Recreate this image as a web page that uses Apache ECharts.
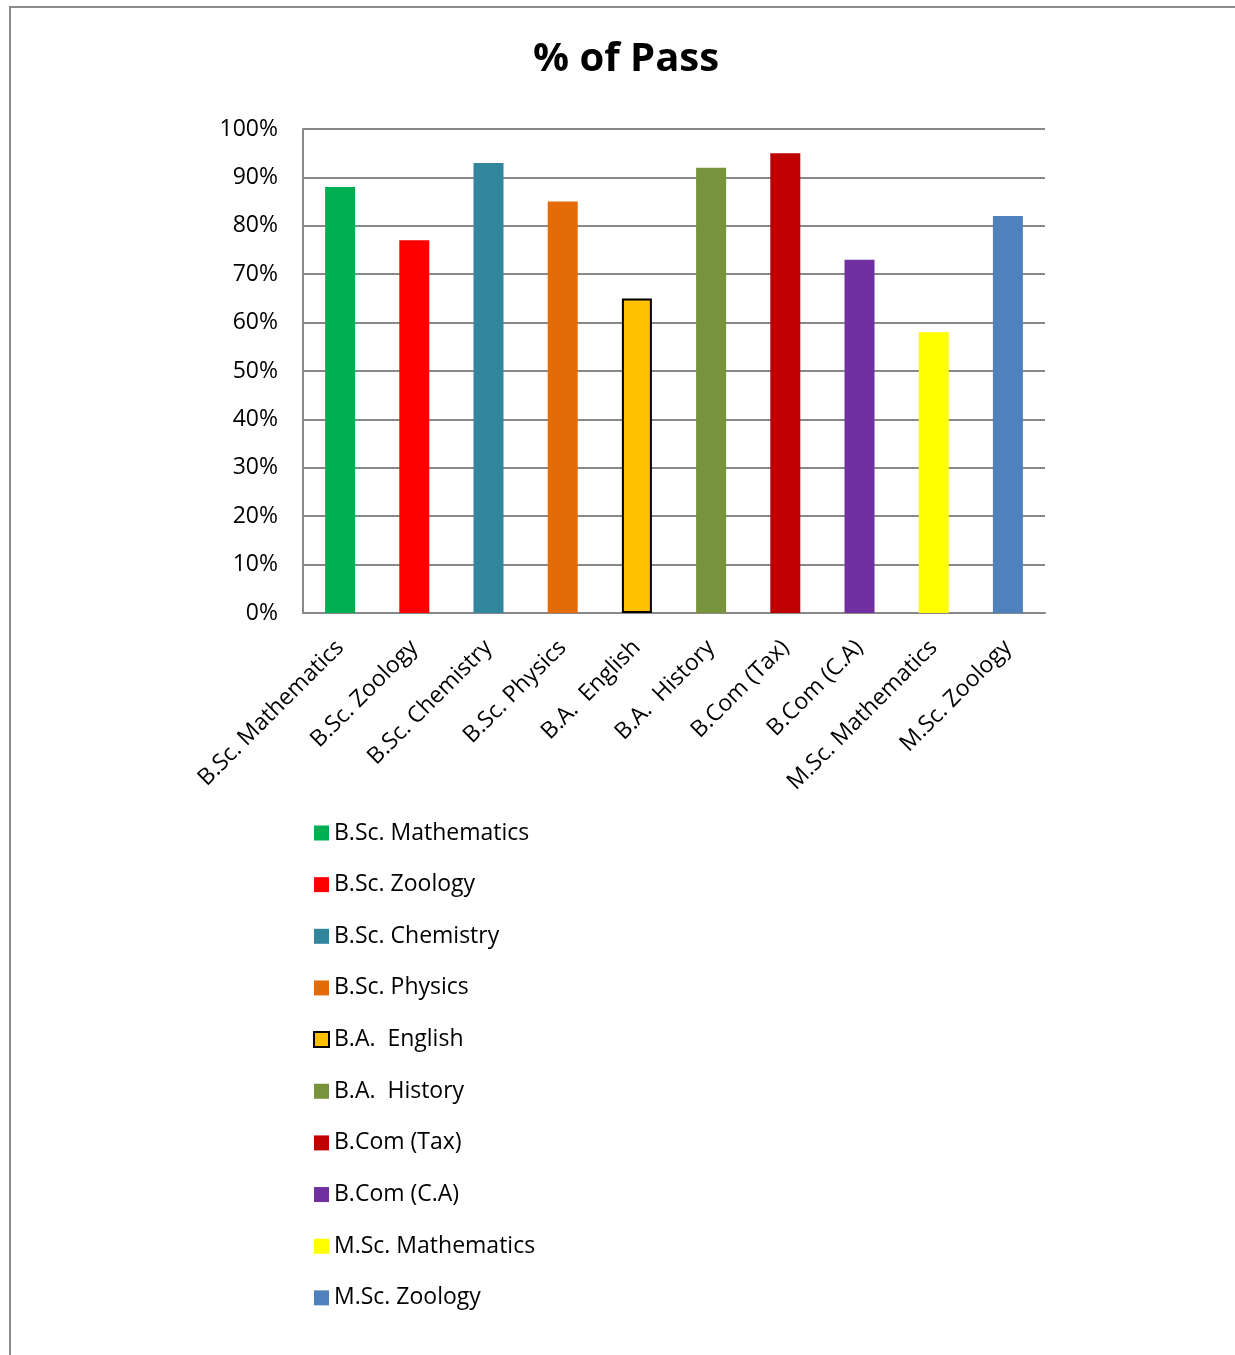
<!DOCTYPE html>
<html>
<head>
<meta charset="utf-8">
<script src="https://cdn.jsdelivr.net/npm/echarts@6/dist/echarts.min.js"></script>
<style>
html,body{margin:0;padding:0;background:#fff;overflow:hidden;}
#frame{position:absolute;left:9px;top:6px;width:1400px;height:1500px;border:2px solid #8c8c8c;box-sizing:border-box;}
#chart{position:absolute;left:0;top:0;width:1235px;height:1355px;}
</style>
</head>
<body>
<div id="frame"></div>
<div id="chart"></div>
<script>
const categories = ['B.Sc. Mathematics','B.Sc. Zoology','B.Sc. Chemistry','B.Sc. Physics','B.A.  English','B.A.  History','B.Com (Tax)','B.Com (C.A)','M.Sc. Mathematics','M.Sc. Zoology'];
const passPercent = [88, 77, 93, 85, 65, 92, 95, 73, 58, 82];
const barColors = ['#00B050','#FF0000','#31859C','#E36C09','#FFC000','#77933C','#C00000','#7030A0','#FFFF00','#4F81BD'];
const titleText = '% of Pass';

const FONT = '"Open Sans", "Noto Sans", sans-serif';
const chart = echarts.init(document.getElementById('chart'), null, {renderer:'canvas'});

const series = categories.map((name, i) => ({
  name: name,
  type: 'bar',
  stack: 'all',
  barWidth: 30,
  data: passPercent.map((v, j) => (j === i ? v : null)),
  itemStyle: i === 4
    ? {color: barColors[i], borderColor: '#000', borderWidth: 2}
    : {color: barColors[i], borderWidth: 0}
}));

chart.setOption({
  animation: false,
  backgroundColor: 'transparent',
  title: {
    text: titleText,
    left: 533,
    top: 40,
    padding: 0,
    textStyle: {fontFamily: FONT, fontSize: 40, fontWeight: 'bold', color: '#000'}
  },
  grid: {left: 303, right: 190, top: 129, bottom: 742, containLabel: false},
  xAxis: {
    type: 'category',
    data: categories,
    axisLine: {lineStyle: {color: '#888', width: 2}},
    axisTick: {show: false},
    axisLabel: {rotate: 45, interval: 0, margin: 31, fontFamily: FONT, fontSize: 23, color: '#000'}
  },
  yAxis: {
    type: 'value',
    min: 0,
    max: 100,
    interval: 10,
    axisLine: {show: true, lineStyle: {color: '#888', width: 2}},
    axisTick: {show: false},
    splitLine: {lineStyle: {color: '#888', width: 2}},
    axisLabel: {formatter: '{value}%', fontFamily: FONT, fontSize: 23, color: '#000', margin: 25}
  },
  legend: {
    orient: 'vertical',
    left: 313,
    top: 821,
    padding: 0,
    itemWidth: 15,
    itemHeight: 15,
    itemGap: 27.65,
    icon: 'rect',
    textStyle: {fontFamily: FONT, fontSize: 23, color: '#000', lineHeight: 24, padding: 0},
    data: categories
  },
  series: series
});
</script>
</body>
</html>
